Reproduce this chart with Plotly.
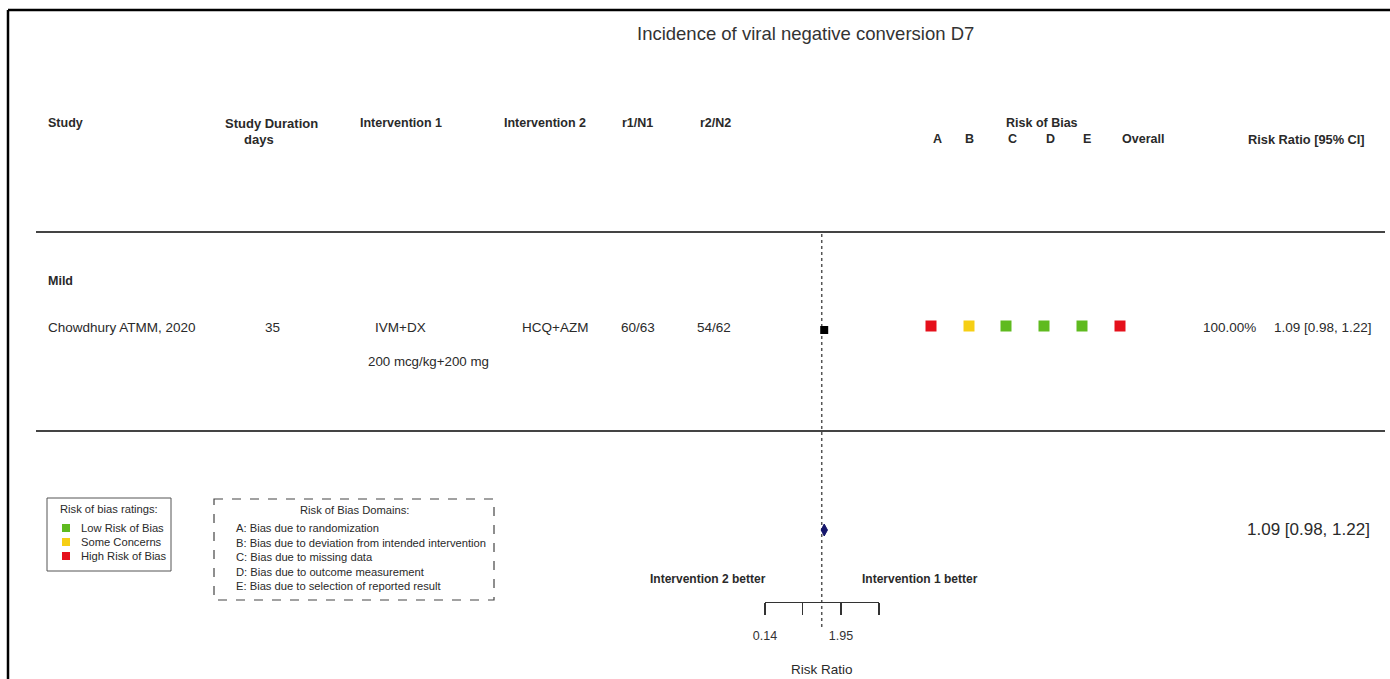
import math
import plotly.graph_objects as go

# ---------------- data ----------------
title = "Incidence of viral negative conversion D7"
subgroup = "Mild"
studies = ["Chowdhury ATMM, 2020"]
durations = ["35"]
interv1 = ["IVM+DX"]
interv1_dose = ["200 mcg/kg+200 mg"]
interv2 = ["HCQ+AZM"]
r1n1 = ["60/63"]
r2n2 = ["54/62"]
rr = [1.09]
rr_lo = [0.98]
rr_hi = [1.22]
weights = ["100.00%"]
rob_domains = ["A", "B", "C", "D", "E", "Overall"]
rob_judgements = [["High", "Some", "Low", "Low", "Low", "High"]]
pooled_rr = 1.09
pooled_lo = 0.98
pooled_hi = 1.22
tick_vals = [0.14, 0.52, 1.95, 7.28]
tick_labels = ["0.14", "", "1.95", ""]
rob_colors = {"Low": "#5fba1f", "Some": "#f6cf14", "High": "#e5101b"}
rob_legend = [("Low", "Low Risk of Bias"), ("Some", "Some Concerns"), ("High", "High Risk of Bias")]
domain_text = [
    "A: Bias due to randomization",
    "B: Bias due to deviation from intended intervention",
    "C: Bias due to missing data",
    "D: Bias due to outcome measurement",
    "E: Bias due to selection of reported result",
]

# ---------------- layout helpers ----------------
W, H = 1390, 679
FONT = "Liberation Sans, Arial, sans-serif"
TXT = "#2a2a2a"

fig = go.Figure()
ann = []


def text(x, y, s, size=13, bold=False, anchor="center", color=TXT):
    ann.append(dict(
        x=x, y=y, xref="x2", yref="y2", text=("<b>%s</b>" % s) if bold else s,
        showarrow=False, xanchor=anchor, yanchor="middle",
        font=dict(family=FONT, size=size, color=color),
    ))


# title
text(805, 33, title, size=18.5, color="#333")

# headers
HY1, HY2 = 123, 139
text(46, HY1, "Study", 12.5, True, "left")
text(271, HY1, "Study Duration", 13, True)
text(259, HY2, "days", 13, True)
text(401, HY1, "Intervention 1", 12.5, True)
text(545, HY1, "Intervention 2", 12.5, True)
text(637, HY1, "r1/N1", 12.5, True)
text(715, HY1, "r2/N2", 12.5, True)
text(1042, HY1, "Risk of Bias", 12.5, True)
letter_x = [937, 969, 1012, 1050, 1087, 1143]
for lx, d in zip(letter_x, rob_domains):
    text(lx, HY2, d, 12.5, True)
text(1367, HY2, "Risk Ratio [95% CI]", 12.8, True, "right")

# subgroup + study rows
text(46, 281, subgroup, 12.5, True, "left")
row_y = [327]
for i, s in enumerate(studies):
    y = row_y[i]
    text(46, y, s, 13.5, False, "left")
    text(272, y, durations[i], 13.5)
    text(400, y, interv1[i], 13.5)
    text(428, y + 34, interv1_dose[i], 13.3)
    text(555, y, interv2[i], 13.5)
    text(638, y, r1n1[i], 13.5)
    text(714, y, r2n2[i], 13.5)
    text(1258, y, weights[i], 13.5, False, "right")
    text(1272, y, "%.2f [%.2f, %.2f]" % (rr[i], rr_lo[i], rr_hi[i]), 13.5, False, "left")

# pooled estimate text
text(1372, 529, "%.2f [%.2f, %.2f]" % (pooled_rr, pooled_lo, pooled_hi), 17, False, "right")

# favours labels
text(708, 579, "Intervention 2 better", 12, True)
text(920, 579, "Intervention 1 better", 12, True)
text(822, 669, "Risk Ratio", 13.5)

# legend 1 (ratings)
text(109, 509, "Risk of bias ratings:", 11.2)
leg_y = [528, 542, 556]
for (k, lab), y in zip(rob_legend, leg_y):
    text(79, y, lab, 11.2, False, "left")
fig.add_trace(go.Scatter(
    x=[66] * len(rob_legend), y=leg_y, xaxis="x2", yaxis="y2", mode="markers",
    marker=dict(symbol="square", size=8, color=[rob_colors[k] for k, _ in rob_legend]),
    showlegend=False, hoverinfo="skip",
))

# legend 2 (domains)
text(354, 510, "Risk of Bias Domains:", 11.2)
for j, t in enumerate(domain_text):
    text(234, 528 + j * 14.5, t, 11.2, False, "left")

# risk of bias squares
rob_x = [931, 969, 1006, 1044, 1082, 1120]
for i, judg in enumerate(rob_judgements):
    fig.add_trace(go.Scatter(
        x=rob_x, y=[row_y[i] - 1] * len(rob_x), xaxis="x2", yaxis="y2", mode="markers",
        marker=dict(symbol="square", size=11, color=[rob_colors[j] for j in judg]),
        showlegend=False, hoverinfo="skip",
    ))

# forest plot: reference line
fig.add_trace(go.Scatter(
    x=[1, 1], y=[234, 628], mode="lines", xaxis="x", yaxis="y",
    line=dict(color="#555", width=1.5, dash="dot"), showlegend=False, hoverinfo="skip",
    cliponaxis=False,
))
# study estimates
fig.add_trace(go.Scatter(
    x=rr, y=[row_y[i] + 3 for i in range(len(rr))], mode="markers", xaxis="x", yaxis="y",
    marker=dict(symbol="square", size=8, color="black"),
    error_x=dict(type="data", symmetric=False,
                 array=[h - r for h, r in zip(rr_hi, rr)],
                 arrayminus=[r - l for r, l in zip(rr, rr_lo)],
                 color="black", thickness=1, width=0),
    showlegend=False, hoverinfo="skip", cliponaxis=False,
))
# pooled diamond
DY = 530
fig.add_trace(go.Scatter(
    x=[pooled_lo, pooled_rr, pooled_hi, pooled_rr, pooled_lo],
    y=[DY, DY - 6, DY, DY + 6, DY], mode="lines", fill="toself",
    fillcolor="#15166b", line=dict(color="#15166b", width=1),
    xaxis="x", yaxis="y", showlegend=False, hoverinfo="skip",
))
# tick labels
fig.add_trace(go.Scatter(
    x=[v for v, l in zip(tick_vals, tick_labels) if l],
    y=[637] * sum(1 for l in tick_labels if l),
    text=[l for l in tick_labels if l], mode="text", xaxis="x", yaxis="y",
    textfont=dict(family=FONT, size=12.5, color="#333"), textposition="middle center",
    showlegend=False, hoverinfo="skip", cliponaxis=False,
))

# shapes
shapes = []
def line(x0, y0, x1, y1, color="#333", width=1.5, dash="solid"):
    shapes.append(dict(type="line", xref="x2", yref="y2", x0=x0, y0=y0, x1=x1, y1=y1,
                       line=dict(color=color, width=width, dash=dash)))

line(8, 10, W, 10, "black", 2.5)
line(8, 10, 8, H, "black", 2.5)
line(36, 232, 1385, 232, "#444", 2)
line(36, 431, 1385, 431, "#444", 2)
shapes.append(dict(type="rect", xref="x2", yref="y2", x0=47, y0=498, x1=171, y1=571,
                   line=dict(color="#555", width=1)))
shapes.append(dict(type="rect", xref="x2", yref="y2", x0=214, y0=499, x1=494, y1=600,
                   line=dict(color="#444", width=1.2, dash="dash")))

fig.update_layout(
    width=W, height=H, margin=dict(l=0, r=0, t=0, b=0),
    paper_bgcolor="white", plot_bgcolor="rgba(0,0,0,0)",
    annotations=ann, shapes=shapes, showlegend=False,
    xaxis=dict(type="log", range=[math.log10(tick_vals[0]), math.log10(tick_vals[-1])],
               domain=[765 / W, 879 / W], anchor="free", position=1 - 602 / H,
               showline=True, linecolor="#333", linewidth=1.2,
               ticks="outside", ticklen=12, tickwidth=1.2, tickcolor="#333",
               tickvals=tick_vals, showticklabels=False,
               showgrid=False, zeroline=False, fixedrange=True),
    yaxis=dict(range=[H, 0], domain=[0, 1], visible=False, fixedrange=True, anchor="x"),
    xaxis2=dict(range=[0, W], domain=[0, 1], visible=False, anchor="y2", fixedrange=True),
    yaxis2=dict(range=[H, 0], domain=[0, 1], visible=False, anchor="x2", fixedrange=True),
)

fig.write_html(
    "out.html",
    config={"staticPlot": True},
    post_script="document.body.style.margin='0';document.body.style.overflow='hidden';",
)
